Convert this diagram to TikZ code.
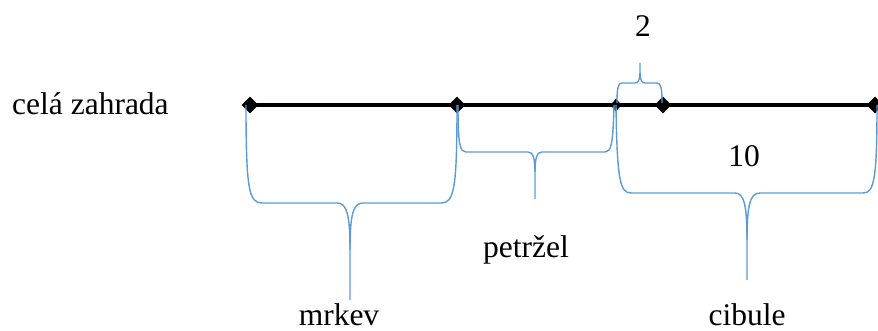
\documentclass[tikz,border=0pt]{standalone}
\usepackage{fontspec}
\setmainfont{Liberation Serif}
\usetikzlibrary{shapes.geometric}
\tikzset{
  lbl/.style={inner sep=0pt, anchor=base, font=\fontsize{31.5}{36}\selectfont},
  brc/.style={draw={rgb,255:red,91;green,155;blue,213}, line width=1.4pt},
  dia/.style={diamond, fill=black, inner sep=0pt, minimum width=17pt, minimum height=17pt},
  dias/.style={diamond, fill=black, inner sep=0pt, minimum width=11pt, minimum height=13pt},
  mainline/.style={line width=3.8pt, black}
}
\begin{document}
\begin{tikzpicture}[x=1pt,y=-1pt]
\useasboundingbox (0,0) rectangle (878,331);
% points on the line
\coordinate (p0) at (250,105);
\coordinate (p1) at (457,105);
\coordinate (p2) at (616,105);
\coordinate (p3) at (663,105);
\coordinate (p4) at (875,105);
\draw[mainline] (p0) -- (p4);
\node[dia] (d0) at (p0) {};
\node[dia] (d1) at (p1) {};
\node[dias] (d2) at (p2) {};
\node[dia] (d3) at (p3) {};
\node[dia] (d4) at (p4) {};
% labels
\node[lbl, anchor=base west] (whole) at (12,115) {celá zahrada};
\node[lbl] (mrkev) at (339,325) {mrkev};
\node[lbl] (petrzel) at (526,257) {petržel};
\node[lbl] (cibule) at (747,325) {cibule};
\node[lbl] (ten) at (744,167) {10};
\node[lbl] (two) at (643,37) {2};
% brace mrkev
\draw[brc] (246,105) .. controls (246,190) and (249,203) .. (262,203)
  -- (337,203) .. controls (347,203) and (350,215) .. (350,250) -- (350,300);
\draw[brc] (457,105) .. controls (457,190) and (454,203) .. (441,203)
  -- (363,203) .. controls (353,203) and (350,215) .. (350,250);
% brace petrzel
\draw[brc] (458,105) .. controls (458,145) and (460,152) .. (466,152)
  -- (528,152) .. controls (533,152) and (535,158) .. (535,172) -- (535,199);
\draw[brc] (614,105) .. controls (613,145) and (611,152) .. (605,152)
  -- (542,152) .. controls (537,152) and (535,158) .. (535,172);
% brace cibule
\draw[brc] (616,105) .. controls (617,180) and (620,193) .. (631,193)
  -- (735,193) .. controls (744,193) and (747,205) .. (747,240) -- (747,280);
\draw[brc] (877,105) .. controls (877,180) and (874,193) .. (863,193)
  -- (760,193) .. controls (750,193) and (747,205) .. (747,240);
% brace 2 (upward)
\draw[brc] (617,103) .. controls (617,88) and (618,83) .. (622,83)
  -- (635,83) .. controls (638,83) and (640,80) .. (640,73) -- (640,63);
\draw[brc] (662,103) .. controls (662,88) and (661,83) .. (657,83)
  -- (645,83) .. controls (642,83) and (640,80) .. (640,73);
\end{tikzpicture}
\end{document}
